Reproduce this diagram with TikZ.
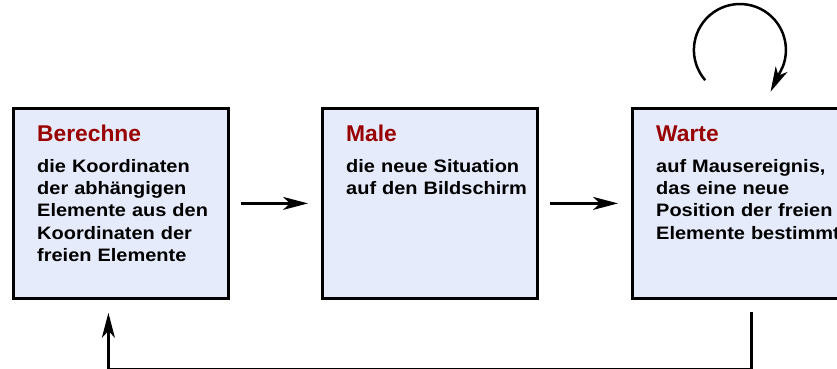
\documentclass[tikz,border=0pt]{standalone}
\usepackage{fontspec}
\setmainfont{Liberation Sans}
\newfontfamily\bodyfont{Liberation Sans}[FakeStretch=1.11]
\usetikzlibrary{arrows.meta}
\definecolor{boxfill}{RGB}{230,235,251}
\definecolor{titlered}{RGB}{153,0,0}

\begin{document}
\begin{tikzpicture}[x=1pt,y=-1pt,
  stage/.style={draw=black, line width=2.8pt, fill=boxfill, minimum width=215pt,
    minimum height=190pt, anchor=north west, inner sep=0pt},
  heading/.style={anchor=base west, text=titlered, inner sep=0pt,
    font=\fontsize{22.8}{27}\selectfont\bfseries},
  body/.style={anchor=base west, inner sep=0pt, text width=230pt, align=left,
    font=\bodyfont\fontsize{18}{22.4}\selectfont\bfseries},
  flow/.style={line width=2.5pt, -{Stealth[length=25pt,width=13pt,inset=7pt]}}
]
\useasboundingbox (0,0) rectangle (837,369);
\clip (0,0) rectangle (837,369);

% the three stages of the loop
\node[stage] (calc) at (12,107) {};
\node[stage] (paint) at (321,107) {};
\node[stage] (wait) at (631,107) {};

\node[heading] (calcT) at ([shift={(25,34)}]calc.north west) {Berechne};
\node[body] (calcB) at ([shift={(25,65)}]calc.north west)
  {die Koordinaten\\der abhängigen\\Elemente aus den\\Koordinaten der\\freien Elemente};

\node[heading] (paintT) at ([shift={(25,34)}]paint.north west) {Male};
\node[body] (paintB) at ([shift={(25,65)}]paint.north west)
  {die neue Situation\\auf den Bildschirm};

\node[heading] (waitT) at ([shift={(25,34)}]wait.north west) {Warte};
\node[body] (waitB) at ([shift={(25,65)}]wait.north west)
  {auf Mausereignis,\\das eine neue\\Position der freien\\Elemente bestimmt};

% forward transitions
\draw[flow, shorten <=11pt, shorten >=13pt] (calc.east) -- (paint.west);
\draw[flow, shorten <=11pt, shorten >=13pt] (paint.east) -- (wait.west);

% waiting repeats itself
\coordinate (loopc) at ([yshift=57pt]wait.north);
\draw[flow] ([shift={(221:46pt)}]loopc) arc[start angle=221, end angle=-21, radius=46pt]
  -- ++(-116:28pt);

% back to the start
\draw[flow, shorten <=12pt, shorten >=13pt]
  ([xshift=11.5pt]wait.south) -- ++(0,69.5) -| ([xshift=-12.5pt]calc.south);
\end{tikzpicture}
\end{document}
